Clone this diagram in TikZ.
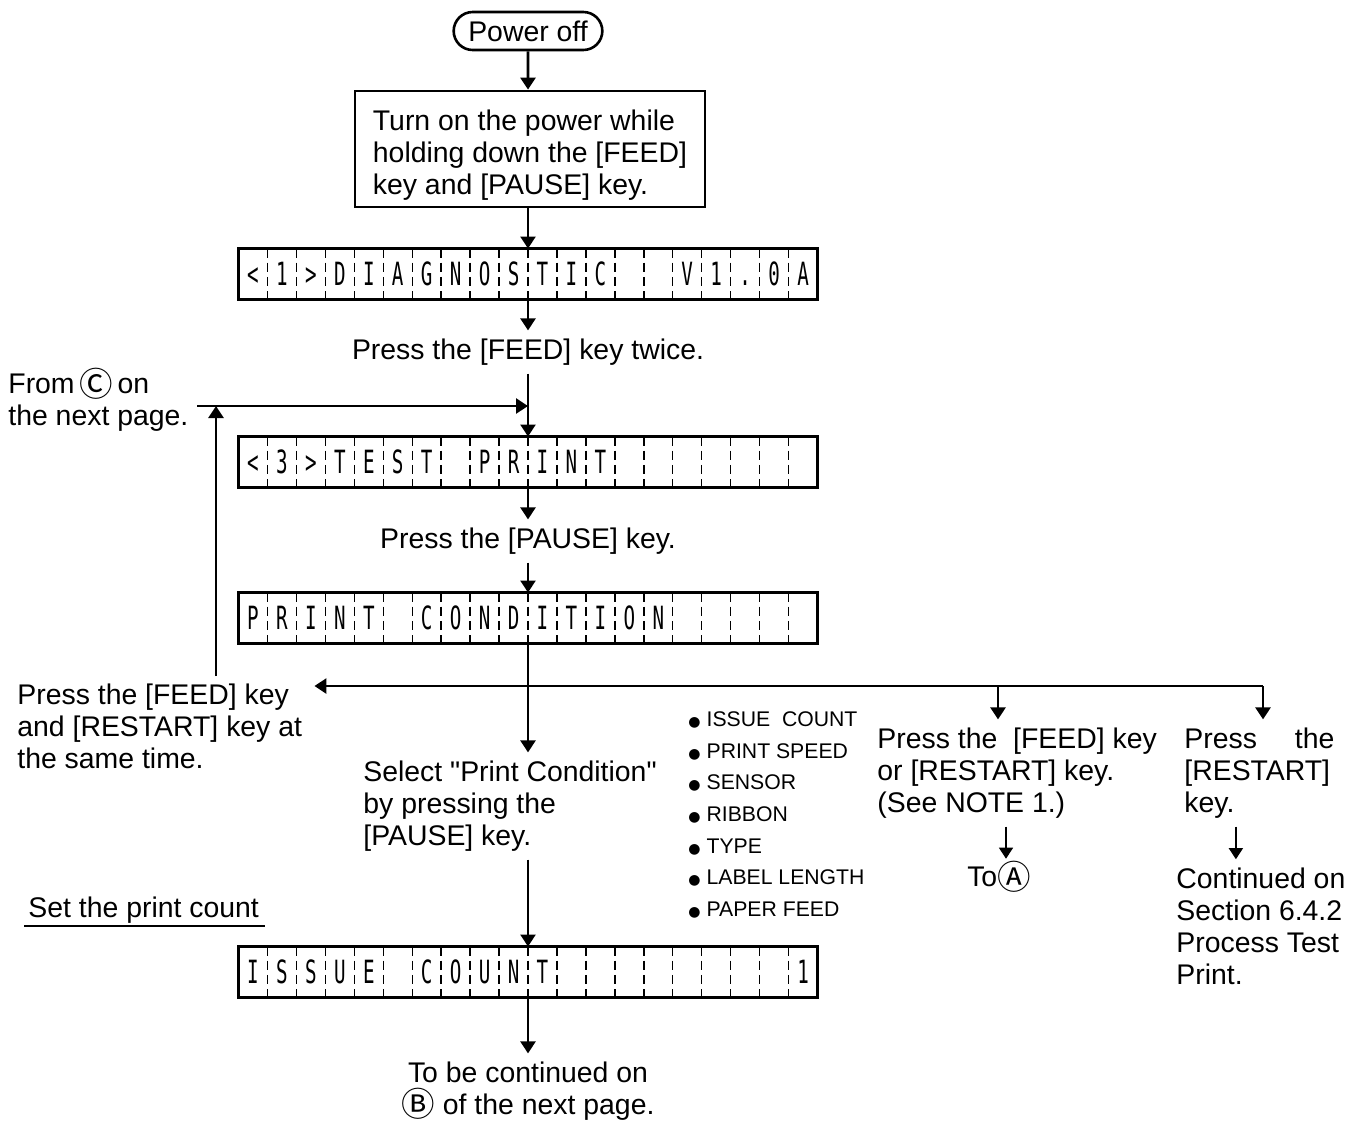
\documentclass[tikz,border=0pt]{standalone}
\usepackage{fontspec}
\setmainfont{Liberation Sans}
\newfontfamily\lcdfont[FakeStretch=0.6]{DejaVu Sans Mono}
\newfontfamily\dotfont{DejaVu Sans}
\newfontfamily\encfont[Scale=1.18]{Noto Sans CJK JP}
\usetikzlibrary{arrows.meta,calc,positioning,shapes.misc}

\newcommand\lcdrow[3]{%
  \node[lcd] (#1) at (528,#2) {};
  \foreach \ch [count=\k from 0] in {#3}
    \node[lcdchar] (#1-\k) at ($(#1.west)+(14.5+28.95*\k,0)$) {\ch};
  \foreach \k in {1,...,19}
    \draw[cellrule] ($(#1.north west)+(28.95*\k,0)$) -- ($(#1.south west)+(28.95*\k,0)$);
}
\newcommand\itemdot{{\fontsize{7}{7}\dotfont ●}\hspace{3pt}}
\newcommand\encl[1]{\smash{\raisebox{-1.2pt}{\encfont #1}}}

\begin{document}
\begin{tikzpicture}[
    x=0.5pt, y=-0.5pt,
    font=\fontsize{14.2}{16}\selectfont,
    arr/.style={-{Triangle[length=6pt,width=7.5pt]}, line width=1.3pt},
    thinarr/.style={-{Triangle[length=5.5pt,width=7pt]}, line width=0.7pt},
    stepbox/.style={draw, line width=1.3pt, align=left},
    lcd/.style={draw, line width=1.3pt, minimum width=289.5pt, minimum height=25.5pt, inner sep=0pt, outer sep=0pt},
    lcdchar/.style={font=\fontsize{16}{16}\lcdfont, inner sep=0pt, text height=11.7pt, text depth=0pt},
    cellrule/.style={line width=0.7pt, dash pattern=on 4.5pt off 2.6pt},
    note/.style={align=left, inner sep=4pt},
    small/.style={font=\fontsize{10.6}{15.8}\selectfont}
]
\useasboundingbox (0,0) rectangle (1363,1121);

\node[draw, rounded rectangle, line width=1.3pt, minimum width=81pt, minimum height=19pt] (poweroff) at (528,31) {Power off};
\node[stepbox, minimum width=175pt, minimum height=56pt] (turnon) at (530,149)
    {\rule{0pt}{16.5pt}Turn on the power while\\holding down the [FEED]\\key and [PAUSE] key.};
\lcdrow{diag}{274}{<,1,>,D,I,A,G,N,O,S,T,I,C,,,V,1,.,0,A}
\node[note] (presstwice) at (528,352) {Press the [FEED] key twice.};
\lcdrow{test}{462}{<,3,>,T,E,S,T,,P,R,I,N,T}
\node[note] (presspause) at (528,541) {Press the [PAUSE] key.};
\lcdrow{cond}{618}{P,R,I,N,T,,C,O,N,D,I,T,I,O,N}
\node[note, anchor=west] (select) at (355,806) {Select \textquotedbl Print Condition\textquotedbl\\by pressing the\\{}[PAUSE] key.};
\lcdrow{count}{972}{I,S,S,U,E,,C,O,U,N,T,,,,,,,,,1}
\node[note, align=center] (continued) at (528,1091) {To be continued on\\\encl{Ⓑ} of the next page.};

\node[note, anchor=west] (fromc) at (0,403) {From\,\encl{Ⓒ}\,on\\the next page.};
\node[note, anchor=west] (pressboth) at (9,726) {Press the [FEED] key\\and [RESTART] key at\\the same time.};
\node[anchor=west, inner sep=0pt] (setcount) at (28,910) {Set the print count};
\draw[line width=1pt] ([shift={(-2pt,-1pt)}]setcount.south west) -- ([shift={(3pt,-1pt)}]setcount.south east);

\node[note, small, anchor=west] (settings) at (680,815)
    {\itemdot ISSUE\ \ COUNT\\\itemdot PRINT SPEED\\\itemdot SENSOR\\\itemdot RIBBON\\
     \itemdot TYPE\\\itemdot LABEL LENGTH\\\itemdot PAPER FEED};
\node[note, anchor=west] (presseither) at (869,773) {Press the\ \ [FEED] key\\or [RESTART] key.\\(See NOTE 1.)};
\node[note] (toA) at (999,877) {To\encl{Ⓐ}};
\node[note, anchor=west, text width=75pt] (pressrestart) at (1176,773) {Press\hfill the\\{}[RESTART]\\key.};
\node[note, anchor=west] (section) at (1168,926) {Continued on\\Section 6.4.2\\Process Test\\Print.};

\coordinate (branch) at (528,686);
\coordinate (feeddrop) at (998,686);
\coordinate (restartdrop) at (1263,686);
\coordinate (loopfoot) at (216,676);
\coordinate (loopturn) at (216,406);
\coordinate (fromstart) at (197,406);
\coordinate (join) at (528,406);

\draw[arr] (poweroff) -- (poweroff |- turnon.north);
\draw[arr] (turnon.south -| diag) -- (diag);
\draw[arr] (diag) -- (presstwice);
\draw[arr] (presstwice) -- (test);
\draw[arr] (test) -- (presspause);
\draw[arr] (presspause) -- (cond);
\draw[arr] (cond) -- (cond |- select.north);
\draw[arr] (cond |- select.south) -- (count);
\draw[arr] (count) -- (continued);

\draw[arr] (fromstart) -- (join);
\draw[arr] (loopfoot) -- (loopturn);
\draw[arr] (restartdrop) -- ([xshift=2pt]pressboth.east |- restartdrop);
\draw[arr] (feeddrop) -- (feeddrop |- presseither.north);
\draw[arr] (restartdrop) -- (restartdrop |- pressrestart.north);
\draw[thinarr] ([xshift=3.5pt]toA.north |- presseither.south) -- ([xshift=3.5pt]toA.north);
\draw[thinarr] ([xshift=-12.5pt]section.north |- pressrestart.south) -- ([xshift=-12.5pt]section.north);
\end{tikzpicture}
\end{document}
